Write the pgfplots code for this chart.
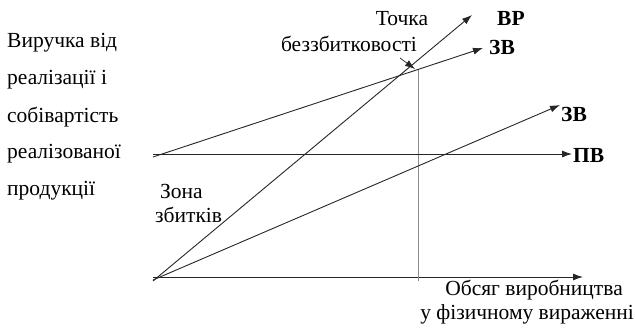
\documentclass[border=0pt]{standalone}
\usepackage{fontspec}
\setmainfont{Liberation Serif}
\usepackage{pgfplots}
\pgfplotsset{compat=1.18}
\usetikzlibrary{arrows.meta}
\begin{document}
\begin{tikzpicture}
\begin{axis}[
  scale only axis, width=635pt, height=327pt,
  xmin=0, xmax=635, ymin=0, ymax=327, y dir=reverse,
  hide axis, clip=false,
  every axis plot/.append style={line width=0.9pt, black!85},
]
\tikzset{arr/.style={-{Latex[length=10pt,width=7pt]}}}
% x axis
\addplot[arr] coordinates {(153,277) (583,277)};
% vertical break-even line
\addplot[black!45, line width=0.8pt] coordinates {(418,69) (418,281)};
% fixed costs (ПВ)
\addplot[arr] coordinates {(153,154) (572,154)};
% total costs (ЗВ)
\addplot[arr] coordinates {(153,157) (483,48)};
% revenue (ВР)
\addplot[arr] coordinates {(153,281) (472,15)};
% variable costs (ЗВ)
\addplot[arr] coordinates {(153,280) (560,105)};
% pointer to break-even point
\addplot[arr, line width=0.7pt] coordinates {(400,58) (415,69)};

\begin{scope}[every node/.style={inner sep=0pt, font=\fontsize{21.5}{25}\selectfont}]
\node[anchor=west] at (axis cs:7,43) {Виручка від};
\node[anchor=west] at (axis cs:7,80) {реалізації і};
\node[anchor=west] at (axis cs:7,117) {собівартість};
\node[anchor=west] at (axis cs:7,154) {реалізованої};
\node[anchor=west] at (axis cs:7,191) {продукції};
\node at (axis cs:402,19) {Точка};
\node at (axis cs:349,44) {беззбитковості};
\node[anchor=west] at (axis cs:497,18) {\bfseries ВР};
\node[anchor=west] at (axis cs:489,47) {\bfseries ЗВ};
\node[anchor=west] at (axis cs:561,114) {\bfseries ЗВ};
\node[anchor=west] at (axis cs:573,155) {\bfseries ПВ};
\node[anchor=west] at (axis cs:160,191) {Зона};
\node[anchor=west] at (axis cs:155,215) {збитків};
\node[anchor=east] at (axis cs:623,290) {Обсяг виробництва};
\node[anchor=east] at (axis cs:634,314) {у фізичному вираженні};
\end{scope}
\end{axis}
\pgfresetboundingbox
\path[use as bounding box] (current axis.south west) rectangle (current axis.north east);
\end{tikzpicture}
\end{document}
